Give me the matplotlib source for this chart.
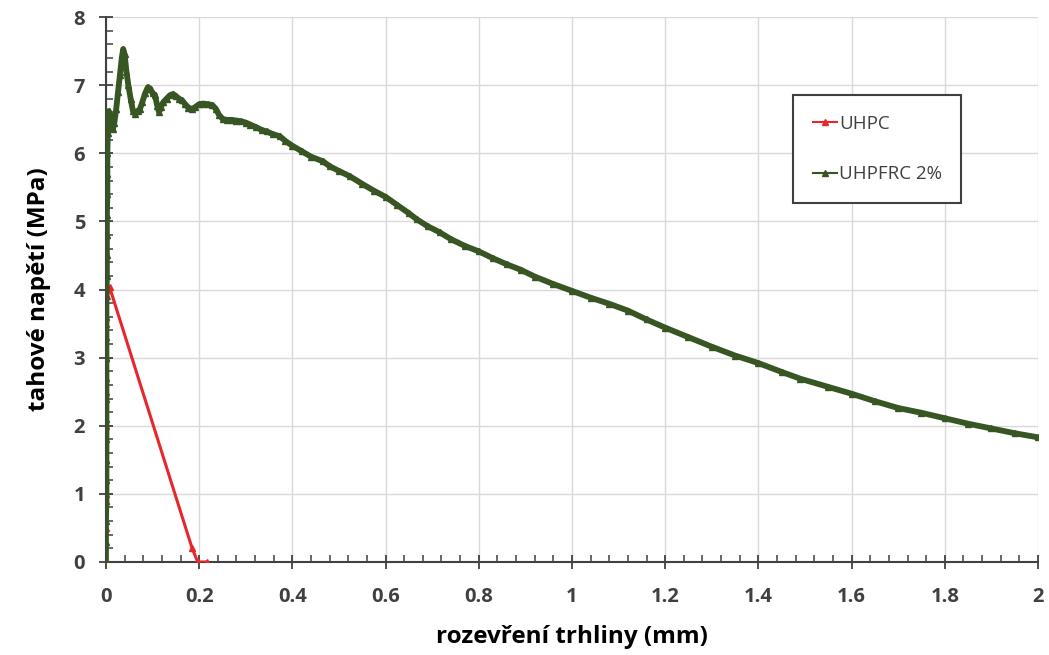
import matplotlib
matplotlib.use("Agg")
import matplotlib.pyplot as plt
from matplotlib.ticker import MultipleLocator

plt.rcParams['font.family'] = ['Open Sans', 'DejaVu Sans']

# UHPFRC 2% curve (crack opening mm, tensile stress MPa)
frc_x = [0.000, 0.000, 0.000, 0.001, 0.001, 0.001, 0.001, 0.001, 0.001, 0.001, 0.001, 0.001,
         0.001, 0.001, 0.002, 0.002, 0.002, 0.002, 0.003, 0.003, 0.003, 0.004, 0.004, 0.006,
         0.009, 0.012, 0.015, 0.018, 0.022, 0.026, 0.030, 0.034, 0.037, 0.040, 0.044, 0.048,
         0.053, 0.058, 0.062, 0.068, 0.073, 0.078, 0.084, 0.090, 0.095, 0.100, 0.105, 0.110,
         0.114, 0.118, 0.123, 0.130, 0.137, 0.144, 0.150, 0.157, 0.163, 0.170, 0.177, 0.185,
         0.192, 0.200, 0.209, 0.218, 0.228, 0.236, 0.243, 0.251, 0.260, 0.270, 0.280, 0.290,
         0.300, 0.310, 0.323, 0.335, 0.345, 0.358, 0.373, 0.385, 0.400, 0.420, 0.440, 0.466,
         0.480, 0.500, 0.524, 0.550, 0.575, 0.600, 0.625, 0.650, 0.667, 0.690, 0.716, 0.740,
         0.770, 0.800, 0.830, 0.860, 0.890, 0.920, 0.960, 1.000, 1.040, 1.080, 1.120, 1.160,
         1.200, 1.250, 1.300, 1.350, 1.400, 1.450, 1.490, 1.550, 1.600, 1.650, 1.700, 1.750,
         1.800, 1.850, 1.900, 1.950, 2.000]
frc_y = [0.00, 0.30, 0.60, 0.90, 1.20, 1.50, 1.80, 2.10, 2.40, 2.70, 3.00, 3.30,
         3.60, 3.90, 4.20, 4.50, 4.80, 5.10, 5.40, 5.70, 6.00, 6.30, 6.55, 6.62,
         6.55, 6.40, 6.36, 6.45, 6.65, 6.90, 7.15, 7.40, 7.53, 7.45, 7.20, 7.00,
         6.80, 6.62, 6.58, 6.62, 6.65, 6.75, 6.88, 6.97, 6.95, 6.88, 6.86, 6.70,
         6.60, 6.68, 6.75, 6.80, 6.85, 6.87, 6.84, 6.80, 6.78, 6.72, 6.67, 6.65,
         6.68, 6.72, 6.73, 6.72, 6.71, 6.65, 6.56, 6.50, 6.49, 6.49, 6.48, 6.47,
         6.45, 6.42, 6.38, 6.34, 6.32, 6.28, 6.25, 6.18, 6.11, 6.03, 5.95, 5.88,
         5.81, 5.74, 5.66, 5.55, 5.45, 5.36, 5.24, 5.12, 5.03, 4.93, 4.84, 4.74,
         4.64, 4.56, 4.46, 4.37, 4.29, 4.19, 4.08, 3.98, 3.88, 3.79, 3.69, 3.56,
         3.44, 3.30, 3.16, 3.03, 2.92, 2.79, 2.69, 2.57, 2.47, 2.36, 2.26, 2.19,
         2.11, 2.03, 1.96, 1.89, 1.83]

# UHPC curve
uhpc_x = [0.000, 0.000, 0.000, 0.000, 0.000, 0.000, 0.000, 0.000, 0.003, 0.008, 0.185, 0.197, 0.216]
uhpc_y = [0.00, 0.50, 1.00, 1.50, 2.00, 2.50, 3.00, 3.50, 3.90, 4.03, 0.20, 0.00, 0.00]

series_labels = ["UHPC", "UHPFRC 2%"]
x_label = "rozevření trhliny (mm)"
y_label = "tahové napětí (MPa)"

fig = plt.figure(figsize=(10.49, 6.55), dpi=100)
ax = fig.add_axes([0.101, 0.142, 0.8885, 0.832])

ax.plot(uhpc_x, uhpc_y, color='#e8262c', lw=2.2, marker='^', ms=4,
        label=series_labels[0], zorder=3)
ax.plot(frc_x, frc_y, color='#375623', lw=4.2, marker='^', ms=4.5,
        label=series_labels[1], zorder=4)

ax.set_xlim(0, 2)
ax.set_ylim(0, 8)
ax.xaxis.set_major_locator(MultipleLocator(0.2))
ax.xaxis.set_minor_locator(MultipleLocator(0.04))
ax.yaxis.set_major_locator(MultipleLocator(1))
ax.yaxis.set_minor_locator(MultipleLocator(0.2))
ax.set_xticks([0, 0.2, 0.4, 0.6, 0.8, 1.0, 1.2, 1.4, 1.6, 1.8, 2.0])
ax.set_xticklabels(["0", "0.2", "0.4", "0.6", "0.8", "1", "1.2", "1.4", "1.6", "1.8", "2"])

ax.grid(True, which='major', color='#d9d9d9', lw=1)
ax.set_axisbelow(True)
for s in ['top', 'right']:
    ax.spines[s].set_visible(False)
for s in ['left', 'bottom']:
    ax.spines[s].set_color('#404040')
    ax.spines[s].set_linewidth(1.5)

ax.tick_params(which='major', direction='inout', length=10, width=1.3, color='#404040',
               labelsize=14.5, labelcolor='#404040')
ax.tick_params(axis='x', which='major', pad=13)
ax.tick_params(axis='y', which='major', pad=10)
ax.tick_params(which='minor', direction='in', length=5, width=1.1, color='#404040')
for lab in ax.get_xticklabels() + ax.get_yticklabels():
    lab.set_fontweight('bold')

ax.set_xlabel(x_label, fontsize=17.5, fontweight='bold', labelpad=13)
ax.set_ylabel(y_label, fontsize=17.5, fontweight='bold', labelpad=16)

leg = ax.legend(loc='upper left', bbox_to_anchor=(0.737, 0.857), fontsize=13.5,
                labelspacing=1.75, borderpad=1.05, handlelength=1.3, handletextpad=0.1,
                borderaxespad=0, fancybox=False, framealpha=1)
leg.get_frame().set_edgecolor('#404040')
leg.get_frame().set_linewidth(1.5)
for t in leg.get_texts():
    t.set_color('#404040')
for h in leg.legend_handles:
    h.set_linewidth(1.5)

fig.savefig("out.png", dpi=100)
